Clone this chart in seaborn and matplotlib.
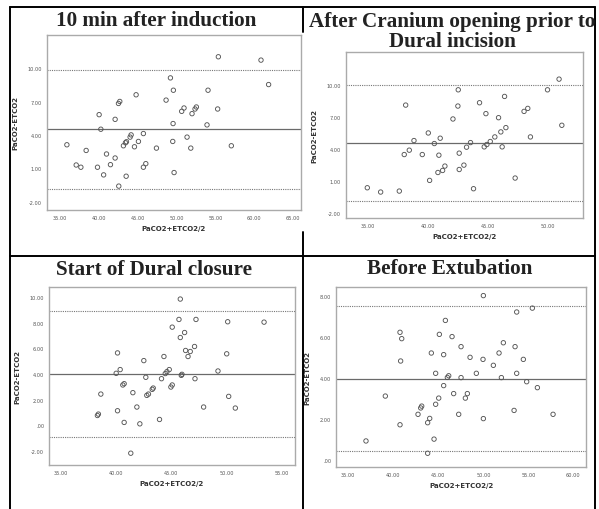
import matplotlib
matplotlib.use("Agg")
import matplotlib.pyplot as plt
import seaborn as sns
from matplotlib.lines import Line2D

sns.set_style("white")
plt.rcParams.update({
    'font.family': ['DejaVu Sans'],
    'xtick.direction': 'out',
    'ytick.direction': 'out',
})

# ------------------------------------------------------------
# Data
# ------------------------------------------------------------
TITLES = ["10 min after induction",
          "After Cranium opening prior to\nDural incision",
          "Start of Dural closure",
          "Before Extubation"]

p1_x = [55.36, 60.85, 61.83, 49.19, 49.57, 54.03, 44.77, 48.63, 42.67, 42.50,
        50.94, 50.64, 52.53, 52.36, 51.97, 55.27, 40.01, 42.07, 40.23, 49.53,
        53.90, 44.13, 44.00, 45.71, 43.53, 43.40, 43.14, 45.07, 44.56, 47.39,
        49.49, 51.33, 51.81, 57.03, 35.86, 38.34, 40.96, 42.07, 41.47, 37.06,
        37.66, 39.80, 46.02, 45.71, 40.59, 43.49, 49.66, 42.54]
p1_y = [11.04, 10.74, 8.54, 9.14, 8.03, 8.03, 7.62, 7.14, 7.02, 6.84,
        6.43, 6.13, 6.52, 6.34, 5.92, 6.34, 5.83, 5.41, 4.52, 5.03,
        4.91, 4.01, 3.81, 4.13, 3.39, 3.30, 3.03, 3.42, 2.94, 2.82,
        3.42, 3.81, 2.82, 3.03, 3.12, 2.61, 2.29, 1.93, 1.33, 1.30,
        1.10, 1.10, 1.42, 1.10, 0.41, 0.29, 0.62, -0.60]

p2_x = [50.91, 49.95, 46.38, 42.53, 38.16, 42.50, 44.30, 44.83, 48.00, 48.31,
        45.88, 42.09, 51.14, 46.49, 46.07, 45.57, 48.53, 40.04, 41.03, 38.85,
        40.54, 45.19, 43.55, 44.91, 44.69, 46.18, 43.22, 38.46, 38.04, 39.54,
        40.92, 42.61, 41.42, 43.00, 41.23, 40.84, 42.61, 40.15, 47.26, 34.97,
        36.08, 37.63, 43.80]
p2_y = [10.56, 9.56, 8.94, 9.56, 8.13, 8.04, 8.35, 7.33, 7.54, 7.82,
        6.95, 6.83, 6.24, 6.02, 5.62, 5.15, 5.15, 5.52, 5.03, 4.81,
        4.53, 4.72, 4.62, 4.44, 4.22, 4.22, 4.19, 3.91, 3.50, 3.50,
        3.44, 3.63, 2.42, 2.51, 2.01, 1.82, 2.10, 1.08, 1.30, 0.39,
        -0.01, 0.08, 0.30]

p3_x = [45.82, 45.70, 47.24, 50.11, 53.40, 45.09, 46.21, 45.82, 47.11, 46.72,
        46.52, 46.30, 50.02, 40.14, 42.52, 44.34, 40.38, 40.02, 44.82, 44.61,
        44.46, 45.97, 45.91, 49.23, 47.15, 44.12, 42.70, 40.74, 40.62, 43.37,
        43.28, 45.09, 44.97, 42.94, 42.79, 41.53, 38.63, 50.20, 41.89, 47.93,
        50.80, 40.14, 38.41, 38.32, 43.94, 40.74, 42.16, 41.34]
p3_y = [9.84, 8.25, 8.25, 8.07, 8.04, 7.65, 7.23, 6.84, 6.14, 5.75,
        5.36, 5.83, 5.57, 5.64, 5.04, 5.36, 4.34, 4.05, 4.34, 4.18,
        4.03, 3.97, 3.89, 4.23, 3.63, 3.63, 3.74, 3.24, 3.14, 2.90,
        2.80, 3.14, 2.98, 2.43, 2.33, 2.54, 2.43, 2.25, 1.42, 1.42,
        1.34, 1.13, 0.87, 0.76, 0.45, 0.22, 0.11, -2.18]

p4_x = [50.00, 55.44, 53.70, 45.78, 40.74, 40.93, 45.11, 46.52, 52.22, 53.52,
        47.52, 44.22, 51.74, 45.59, 48.52, 49.96, 54.44, 40.81, 51.11, 44.70,
        49.22, 53.70, 46.15, 46.00, 47.52, 52.00, 54.81, 45.59, 56.00, 39.11,
        46.70, 48.22, 45.04, 48.00, 43.15, 43.04, 44.70, 42.74, 44.04, 47.26,
        50.00, 53.41, 57.74, 43.81, 40.74, 44.52, 36.96, 43.81]
p4_y = [8.02, 7.41, 7.22, 6.81, 6.23, 5.92, 6.13, 6.02, 5.72, 5.53,
        5.53, 5.22, 5.22, 5.14, 5.01, 4.91, 4.91, 4.83, 4.62, 4.23,
        4.23, 4.23, 4.11, 4.03, 4.02, 4.02, 3.82, 3.63, 3.53, 3.12,
        3.24, 3.24, 3.02, 3.02, 2.63, 2.54, 2.72, 2.23, 2.03, 2.23,
        2.02, 2.42, 2.23, 1.82, 1.72, 1.02, 0.93, 0.33]

# mean difference and limits of agreement per panel
MEANS = [4.50, 4.59, 4.00, 3.97]
UPPER = [9.86, 10.00, 8.93, 7.51]
LOWER = [-0.86, -0.85, -0.90, 0.42]

X_TICKS = [[35, 40, 45, 50, 55, 60, 65],
           [35, 40, 45, 50],
           [35, 40, 45, 50, 55],
           [35, 40, 45, 50, 55, 60]]
Y_TICKS = [[-2, 1, 4, 7, 10],
           [-2, 1, 4, 7, 10],
           [-2, 0, 2, 4, 6, 8, 10],
           [0, 2, 4, 6, 8]]

XS = [p1_x, p2_x, p3_x, p4_x]
YS = [p1_y, p2_y, p3_y, p4_y]

# ------------------------------------------------------------
# Layout (pixel boxes, 599 x 510 canvas)
# ------------------------------------------------------------
W, H = 599, 510
BOXES = [(47, 36, 301, 211), (346, 53, 583, 219),
         (49, 288, 295, 466), (336, 288, 586, 468)]
LIMS = [((33.3, 66.0), (-2.75, 13.0)),
        ((33.2, 52.9), (-2.44, 13.1)),
        ((33.94, 56.2), (-3.1, 10.78)),
        ((33.63, 61.4), (-0.34, 8.44))]
TITLE_POS = [(156, 21), (452, 32), (154, 270), (450, 269)]


def spss_fmt(v):
    s = f"{v:.2f}"
    if s.startswith("0."):
        s = s[1:]
    return s


fig = plt.figure(figsize=(W / 100, H / 100), dpi=100)

# table grid lines
grid = [((10, 10), (8, 510)), ((595, 595), (8, 510)), ((10, 595), (8, 8)),
        ((10, 595), (257, 257)), ((303, 303), (8, 33)), ((303, 303), (233, 510))]
for gx, gy in grid:
    fig.add_artist(Line2D([v / W for v in gx], [1 - v / H for v in gy],
                          color='black', lw=1.4))

for i in range(4):
    l, t, r, b = BOXES[i]
    ax = fig.add_axes([l / W, 1 - b / H, (r - l) / W, (b - t) / H])
    sns.scatterplot(x=XS[i], y=YS[i], ax=ax, s=10, marker='o',
                    facecolor='none', edgecolor='#555555', linewidth=0.65,
                    zorder=3)
    ax.axhline(MEANS[i], color='#6a6a6a', lw=0.9)
    ax.axhline(UPPER[i], color='#777777', lw=0.8, ls=(0, (1, 1)))
    ax.axhline(LOWER[i], color='#777777', lw=0.8, ls=(0, (1, 1)))
    ax.set_xlim(*LIMS[i][0])
    ax.set_ylim(*LIMS[i][1])
    ax.set_xticks(X_TICKS[i])
    ax.set_yticks(Y_TICKS[i])
    ax.set_xticklabels([spss_fmt(v) for v in X_TICKS[i]])
    ax.set_yticklabels([spss_fmt(v) for v in Y_TICKS[i]])
    ax.tick_params(labelsize=3.6, length=2, width=0.6, colors='#555555',
                   pad=1.5)
    for sp in ax.spines.values():
        sp.set_color('#aaaaaa')
        sp.set_linewidth(1.0)
    ax.set_xlabel("PaCO2+ETCO2/2", fontsize=5, fontweight='bold',
                  color='#333333', labelpad=4)
    ax.set_ylabel("PaCO2-ETCO2", fontsize=5, fontweight='bold',
                  color='#333333', labelpad=7)

    tx, ty = TITLE_POS[i]
    fig.text(tx / W, 1 - ty / H, TITLES[i], ha='center', va='center',
             family=['Liberation Serif', 'DejaVu Serif'], fontweight='bold',
             fontsize=15.2, color='#222222', linespacing=1.05)

fig.savefig("out.png", dpi=100)
